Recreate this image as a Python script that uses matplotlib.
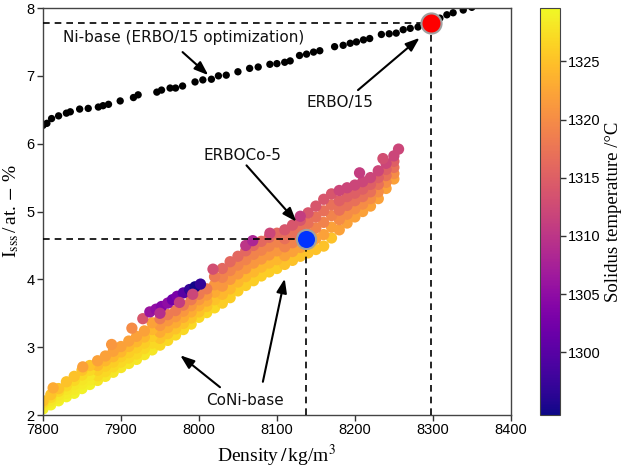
import matplotlib
matplotlib.use('Agg')
import matplotlib.pyplot as plt

plt.rcParams['mathtext.fontset'] = 'stix'
plt.rcParams['font.family'] = ['Liberation Sans', 'DejaVu Sans']

# ---------------- data ----------------
# Ni-base (ERBO/15 optimization) candidates
ni_x = [7800, 7805, 7811, 7820, 7830, 7835, 7847, 7858, 7871, 7877, 7884, 7899, 7916,
        7922, 7946, 7952, 7963, 7970, 7979, 7995, 8005, 8016, 8025, 8035, 8050, 8065,
        8076, 8091, 8100, 8110, 8117, 8129, 8138, 8147, 8155, 8174, 8185, 8194, 8202,
        8211, 8219, 8234, 8244, 8253, 8262, 8271, 8281, 8290, 8309, 8318, 8326, 8339, 8350]
ni_y = [6.27, 6.30, 6.37, 6.41, 6.45, 6.47, 6.51, 6.52, 6.54, 6.56, 6.58, 6.63, 6.68,
        6.72, 6.76, 6.79, 6.82, 6.82, 6.85, 6.91, 6.94, 6.95, 7.00, 7.01, 7.06, 7.11,
        7.13, 7.17, 7.18, 7.20, 7.22, 7.30, 7.32, 7.35, 7.37, 7.43, 7.45, 7.48, 7.50,
        7.53, 7.55, 7.61, 7.62, 7.63, 7.68, 7.70, 7.72, 7.75, 7.85, 7.90, 7.93, 7.97, 8.01]

# CoNi-base candidates (density, Isss, solidus temperature)
cloud_x = [7800, 7810, 7820, 7830, 7840, 7850, 7860, 7870, 7880, 7890,
           7900, 7910, 7920, 7930, 7940, 7950, 7960, 7970, 7980, 7990,
           8000, 8010, 8020, 8030, 8040, 8050, 8060, 8070, 8080, 8090,
           8100, 8110, 8120, 8130, 8140, 8150, 8160, 8170, 8180, 8190,
           8200, 8210, 8220, 8230, 8240, 8250]
lane1_y = [2.09, 2.15, 2.21, 2.27, 2.32, 2.39, 2.45, 2.51, 2.57, 2.63,
           2.70, 2.76, 2.82, 2.89, 2.96, 3.03, 3.10, 3.18, 3.26, 3.34,
           3.44, 3.51, 3.58, 3.65, 3.73, 3.83, 3.91, 3.98, 4.05, 4.11,
           4.16, 4.22, 4.28, 4.34, 4.39, 4.44, 4.49, 4.61, 4.73, 4.83,
           4.92, 5.00, 5.08, 5.19, 5.34, 5.48]
lane2_y = [2.12, 2.19, 2.25, 2.32, 2.38, 2.46, 2.52, 2.58, 2.64, 2.71,
           2.78, 2.84, 2.90, 2.98, 3.06, 3.13, 3.20, 3.27, 3.35, 3.43,
           3.52, 3.60, 3.70, 3.78, 3.86, 3.96, 4.04, 4.11, 4.18, 4.24,
           4.29, 4.35, 4.41, 4.47, 4.54, 4.60, 4.66, 4.77, 4.88, 4.96,
           5.04, 5.11, 5.19, 5.29, 5.43, 5.56]
lane3_y = [2.15, 2.22, 2.30, 2.38, 2.45, 2.52, 2.59, 2.66, 2.72, 2.78,
           2.86, 2.92, 2.99, 3.06, 3.16, 3.22, 3.29, 3.36, 3.44, 3.52,
           3.61, 3.68, 3.81, 3.90, 4.00, 4.08, 4.16, 4.24, 4.30, 4.36,
           4.42, 4.48, 4.54, 4.60, 4.68, 4.76, 4.84, 4.94, 5.02, 5.09,
           5.16, 5.22, 5.29, 5.40, 5.53, 5.65]
lane4_y = [2.18, 2.26, 2.35, 2.43, 2.51, 2.59, 2.66, 2.73, 2.80, 2.86,
           2.93, 3.01, 3.08, 3.15, 3.26, 3.32, 3.39, 3.45, 3.53, 3.61,
           3.70, 3.77, 3.92, 4.03, 4.13, 4.21, 4.29, 4.37, 4.43, 4.49,
           4.55, 4.60, 4.67, 4.74, 4.83, 4.92, 5.01, 5.10, 5.16, 5.22,
           5.27, 5.33, 5.40, 5.50, 5.62, 5.74]
lane5_y = [2.21, 2.30, 2.39, 2.49, 2.57, 2.66, 2.73, 2.80, 2.87, 2.94,
           3.01, 3.09, 3.16, 3.24, 3.36, 3.42, 3.48, 3.54, 3.62, 3.70,
           3.78, 3.86, 4.04, 4.16, 4.26, 4.34, 4.42, 4.50, 4.56, 4.62,
           4.68, 4.73, 4.80, 4.87, 4.98, 5.08, 5.18, 5.26, 5.31, 5.35,
           5.39, 5.44, 5.50, 5.60, 5.71, 5.82]
lane1_t = [1329]*7 + [1328]*8 + [1327]*8 + [1326]*8 + [1325]*7 + [1322]*8
lane2_t = [1328.5]*7 + [1327]*8 + [1325]*8 + [1324]*8 + [1322]*7 + [1320]*8
lane3_t = [1328]*7 + [1326]*8 + [1323]*8 + [1321]*8 + [1319]*7 + [1317]*8
lane4_t = [1327]*7 + [1324]*8 + [1321]*8 + [1319]*8 + [1317]*7 + [1315]*8
lane5_t = [1325]*7 + [1322]*8 + [1318]*8 + [1316]*8 + [1314]*7 + [1312]*8

extra_x = [7813, 7851, 7888, 7914, 7928, 7937, 7945, 7952, 7960, 7966, 7972, 7980,
           7988, 7995, 8002, 8018, 8060, 8069, 8091, 8130, 8206, 8256, 8236,
           7950, 7975, 7992]
extra_y = [2.40, 2.71, 3.04, 3.28, 3.42, 3.52, 3.56, 3.60, 3.65, 3.70, 3.75, 3.80,
           3.85, 3.89, 3.93, 4.15, 4.50, 4.57, 4.68, 4.93, 5.57, 5.92, 5.78,
           3.50, 3.66, 3.78]
extra_t = [1323, 1322, 1321, 1320, 1314, 1306, 1305, 1304, 1305, 1302, 1303, 1300,
           1297, 1295, 1297, 1313, 1310, 1308, 1312, 1311, 1311, 1312, 1313,
           1309, 1311, 1312]

erbo15 = (8297, 7.78)
erboco5 = (8137, 4.59)

t_min, t_max = 1294.6, 1329.6
x_ticks = [7800, 7900, 8000, 8100, 8200, 8300, 8400]
y_ticks = [2, 3, 4, 5, 6, 7, 8]
cb_ticks = [1300, 1305, 1310, 1315, 1320, 1325]

# ---------------- figure ----------------
fig = plt.figure(figsize=(6.26, 4.68), dpi=100)
ax = fig.add_axes([0.0687, 0.1132, 0.7473, 0.8697])
cax = fig.add_axes([0.8626, 0.1132, 0.032, 0.8697])

xs = cloud_x * 5 + extra_x
ys = lane1_y + lane2_y + lane3_y + lane4_y + lane5_y + extra_y
ts = lane1_t + lane2_t + lane3_t + lane4_t + lane5_t + extra_t

sc = ax.scatter(xs, ys, c=ts, cmap='plasma', vmin=t_min, vmax=t_max,
                s=66, edgecolors='none', zorder=2)
ax.scatter(ni_x, ni_y, c='black', s=28, edgecolors='none', zorder=2)

dash = dict(color='black', lw=1.2, ls=(0, (4, 3)), zorder=3)
ax.plot([7800, erbo15[0]], [erbo15[1], erbo15[1]], **dash)
ax.plot([erbo15[0], erbo15[0]], [2, erbo15[1]], **dash)
ax.plot([7800, erboco5[0]], [erboco5[1], erboco5[1]], **dash)
ax.plot([erboco5[0], erboco5[0]], [2, erboco5[1]], **dash)

ax.scatter([erbo15[0]], [erbo15[1]], s=210, c='#ff0000', edgecolors='#a0a0a0',
           linewidths=1.5, zorder=5)
ax.scatter([erboco5[0]], [erboco5[1]], s=190, c='#0033ff', edgecolors='#a0a0a0',
           linewidths=1.5, zorder=5)

tkw = dict(fontsize=11, family='DejaVu Sans', ha='center', va='center', color='#111111')
ax.text(7980, 7.56, 'Ni-base (ERBO/15 optimization)', **tkw)
ax.text(8181, 6.60, 'ERBO/15', **tkw)
ax.text(8056, 5.83, 'ERBOCo-5', **tkw)
ax.text(8059, 2.22, 'CoNi-base', **tkw)

akw = dict(arrowstyle='-|>,head_length=0.6,head_width=0.22', color='black', lw=1.5,
           mutation_scale=14, shrinkA=0, shrinkB=0)
for tail, head in [((7979, 7.35), (8012, 7.01)),
                   ((8204, 6.79), (8283, 7.56)),
                   ((8061, 5.68), (8125, 4.85)),
                   ((8027, 2.41), (7976, 2.88)),
                   ((8082, 2.49), (8110, 4.01))]:
    ax.annotate('', xy=head, xytext=tail, arrowprops=akw, zorder=6)

ax.set_xlim(7800, 8400)
ax.set_ylim(2, 8)
ax.set_xticks(x_ticks)
ax.set_yticks(y_ticks)
ax.tick_params(labelsize=10.5, length=4, width=1, color='#333333', pad=2)
for sp in ax.spines.values():
    sp.set_color('#444444')
    sp.set_linewidth(1.0)

ax.set_xlabel(r'Density$\,/\,$kg/m$^3$', family='Liberation Serif', fontsize=14, labelpad=4)
ax.set_ylabel(r'I$_{\mathrm{sss}}\,$/$\,$at.$\,-\,$%', family='Liberation Serif',
              fontsize=14, labelpad=4)

cb = fig.colorbar(sc, cax=cax)
cb.set_ticks(cb_ticks)
cb.ax.tick_params(labelsize=10.5, length=4, width=1, color='#333333', pad=2)
cb.outline.set_edgecolor('#444444')
cb.set_label('Solidus temperature /°C', family='Liberation Serif', fontsize=13.5, labelpad=3)

fig.savefig('out.png', dpi=100)
